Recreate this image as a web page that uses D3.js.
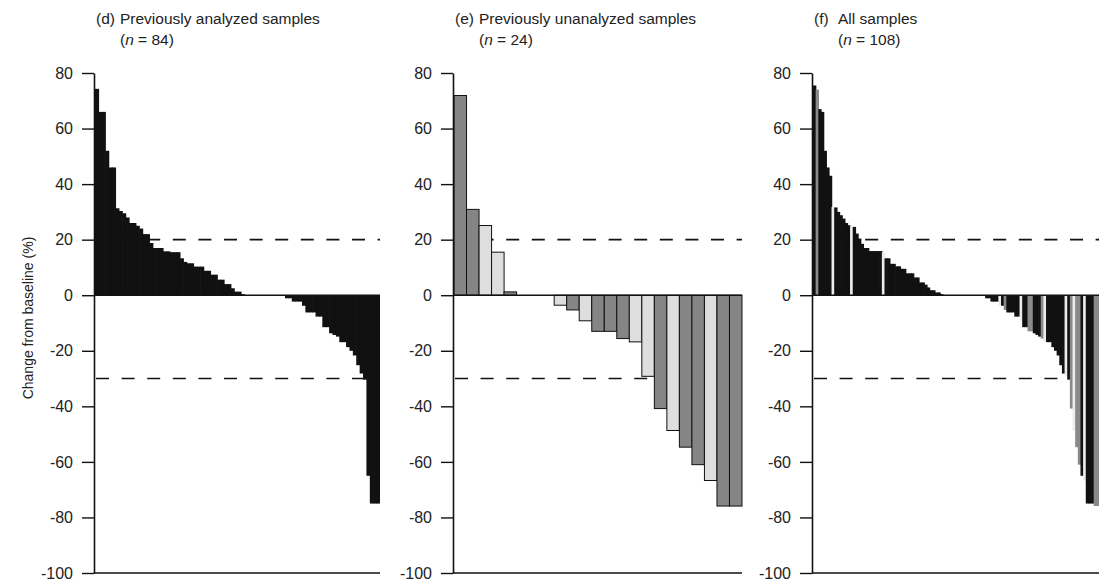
<!DOCTYPE html>
<meta charset="utf-8">
<script src="https://d3js.org/d3.v7.min.js"></script>
<style>
	body{
		margin:0;
		background:#fff;
		font-family: 'Liberation Sans', Arial, sans-serif;
	}
	text{
		fill:#222;
	}
</style>
<div id="chart"></div>
<script>

// tick labels on the y axis
var yTicks = [80, 60, 40, 20, 0, -20, -40, -60, -80, -100]
var refLines = [20, -30]

// (d) previously analyzed samples, sorted high to low
var dValues = [74.3, 66, 66, 52, 46, 46, 31.3, 30.3, 29.5, 28, 26, 26, 25, 24, 22, 22, 18.8, 17, 17, 17,
	15.8, 15.8, 15.5, 15.5, 15.5, 13.3, 12, 11.5, 11.5, 10.3, 10.3, 10.3, 8.8, 8.8, 7.4, 7.4, 5.6, 5.6, 4, 4,
	2.5, 1.3, 1.3, 0.4,
	0, 0, 0, 0, 0, 0, 0, 0, 0, 0, 0, 0,
	-1.1, -1.1, -2.3, -2.3, -2.3, -3.8, -6.2, -6.2, -6.2, -7.7, -7.7, -11.5, -11.5, -13.7, -14.3, -14.9,
	-16.9, -16.9, -18.7, -20, -21.7, -25.2, -28.2, -30.4, -65, -75, -75, -75]

// (e) previously unanalyzed samples, g = dark grey, w = light grey
var eValues = [71.9, 30.9, 25.1, 15.5, 1.2, 0, 0, 0, -3.6, -5.3, -9.2, -13, -13, -15.6, -16.8, -29.2,
	-40.8, -48.7, -54.7, -61, -66.7, -75.9, -75.9]
var eTypes = ["g","g","w","w","g","g","g","g","w","g","w","g","g","g","w","w","g","w","g","g","w","g","g"]

// (f) all samples, k = black
var fValues = [75.5, 74, 67, 66, 52, 46, 43, 31.8, 31.6, 30, 28.8, 27.6, 26, 25.2, 25, 24.6, 22.2, 20.4, 18.5, 17,
	17, 15.9, 15.9, 15.9, 15.9, 15.9, 15.5, 13.3, 13.3, 11.3, 11.3, 10.4, 10.4, 9.5, 9.5, 7.9, 7.9, 7.9, 6.4, 6.4,
	4.6, 4.6, 3.8, 2.8, 1.8, 1.8, 1, 1, 0.4,
	0, 0, 0, 0, 0, 0, 0, 0, 0, 0, 0, 0, 0, 0, 0, 0,
	-1.1, -1.1, -2.3, -2.3, -2.3, -3.6, -3.8, -5.3, -6.2, -6.2, -6.2, -7.7, -7.7, -9.2, -11.5, -11.5,
	-13, -13, -13.7, -14.3, -14.9, -15.6, -16.8, -16.9, -16.9, -18.7, -20, -21.7, -25.2, -28.2, -29.2, -30.4,
	-40.8, -48.7, -54.7, -61, -65, -66.7, -75, -75, -75, -75.9, -75.9]
var fTypes = ["k","g","k","k","k","k","k","w","k","k","k","k","k","k","w","k","k","k","k","k",
	"k","k","k","k","k","k","w","k","k","k","k","k","k","k","k","k","k","k","k","k",
	"k","k","k","k","k","k","k","k","k",
	"k","k","k","k","k","k","k","k","k","k","k","k","k","k","k","k",
	"k","k","k","k","k","w","k","g","k","k","k","k","k","w","k","k",
	"g","g","k","k","k","g","w","k","k","k","k","k","k","k","w","k",
	"g","w","g","g","k","w","k","k","k","g","g"]

var titles = [
	{tag:"(d)", name:"Previously analyzed samples", n:"84"},
	{tag:"(e)", name:"Previously unanalyzed samples", n:"24"},
	{tag:"(f)", name:"All samples", n:"108"}
]

var w = 1100
var h = 583
var svg = d3.select("#chart").append("svg").attr("width",w).attr("height",h)

var y = d3.scaleLinear().domain([-100,80]).range([573,73])

var colors = {k:"#111", g:"#8a8a8a", w:"#ececec"}
var eColors = {g:"#858585", w:"#dedede"}

drawPanel(94, 380, dValues, null, titles[0], "d")
drawPanel(453, 742, eValues, eTypes, titles[1], "e")
drawPanel(812, 1099, fValues, fTypes, titles[2], "f")

// y axis title
svg.append("text")
	.attr("transform","translate(33,318) rotate(-90)")
	.attr("text-anchor","middle")
	.style("font-size","14px")
	.text("Change from baseline (%)")

function drawPanel(x0, x1, values, types, title, id){
	var g = svg.append("g").attr("id","panel_"+id)

	var x = d3.scaleBand()
		.domain(d3.range(values.length))
		.range([x0+1, x1])
		.paddingInner(0)

	// dashed reference lines sit under the bars
	g.selectAll(".ref")
		.data(refLines)
		.join("line")
		.attr("x1",x0+2).attr("x2",x1)
		.attr("y1",function(d){return y(d)})
		.attr("y2",function(d){return y(d)})
		.attr("stroke","#111")
		.attr("stroke-width",1.6)
		.attr("stroke-dasharray","13,12.6")

	// thin bars overlap a little so no seams show between them
	var extra = id=="e" ? 0 : 0.7
	g.selectAll(".bar")
		.data(values)
		.join("rect")
		.attr("class","bar")
		.attr("x",function(d,i){return x(i)})
		.attr("width",function(d,i){return i==values.length-1 ? x.bandwidth() : x.bandwidth()+extra})
		.attr("y",function(d){return y(Math.max(0,d))})
		.attr("height",function(d){return Math.abs(y(d)-y(0))})
		.attr("fill",function(d,i){
			if(id=="d") return colors.k
			if(id=="e") return eColors[types[i]]
			return colors[types[i]]
		})
		.attr("stroke",id=="e" ? "#111" : "none")
		.attr("stroke-width",1)

	// zero line and bottom line
	g.selectAll(".base")
		.data([0,-100])
		.join("line")
		.attr("x1",x0).attr("x2",x1)
		.attr("y1",function(d){return y(d)})
		.attr("y2",function(d){return y(d)})
		.attr("stroke","#111")
		.attr("stroke-width",1.4)

	var axis = g.append("g")
		.attr("transform","translate("+x0+",0)")
		.call(d3.axisLeft(y).tickValues(yTicks).tickSize(12).tickSizeOuter(0).tickPadding(9)
			.tickFormat(function(d){return String(d)}))
	axis.select(".domain").attr("stroke","#111").attr("stroke-width",1.6)
	axis.selectAll(".tick line").attr("stroke","#111").attr("stroke-width",1.4)
	axis.selectAll(".tick text")
		.style("font-size","16px")
		.style("font-family","'Liberation Sans', Arial, sans-serif")
		.attr("fill","#222")

	var t = g.append("text").attr("x",x0+2).attr("y",24).style("font-size","15.5px")
	t.append("tspan").text(title.tag)
	t.append("tspan").attr("x",x0+26).text(title.name)

	var t2 = g.append("text").attr("x",x0+26).attr("y",45).style("font-size","15.5px")
	t2.append("tspan").text("(")
	t2.append("tspan").style("font-style","italic").text("n")
	t2.append("tspan").text(" = "+title.n+")")
}

</script>
